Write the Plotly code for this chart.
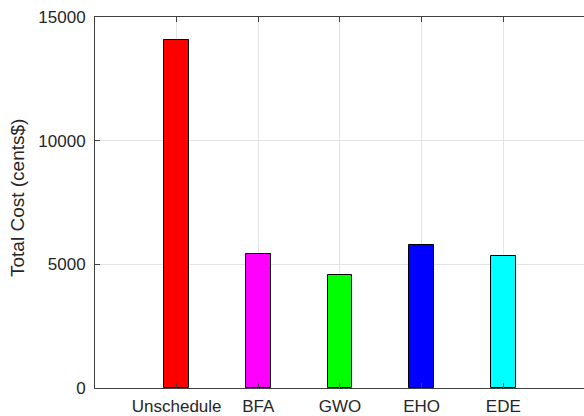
import plotly.graph_objects as go

categories = ["Unschedule", "BFA", "GWO", "EHO", "EDE"]
positions = [1, 2, 3, 4, 5]
total_cost = [14070, 5400, 4555, 5780, 5335]
bar_colors = ["#ff0000", "#ff00ff", "#00ff00", "#0000ff", "#00ffff"]
y_ticks = [0, 5000, 10000, 15000]
y_tick_labels = ["0", "5000", "10000", "15000"]

fig = go.Figure()
fig.add_trace(go.Bar(
    x=positions, y=total_cost, width=0.3,
    marker=dict(color=bar_colors, line=dict(color="#000000", width=1)),
    showlegend=False, hoverinfo="skip",
))

axis_font = dict(family="Liberation Sans, Arial, sans-serif", size=17, color="#262626")

fig.update_layout(
    width=584, height=416,
    margin=dict(l=95, r=0, t=17, b=28, autoexpand=False),
    paper_bgcolor="white", plot_bgcolor="white",
    bargap=0,
    xaxis=dict(
        range=[0, 5.988], tickvals=positions, ticktext=categories,
        showgrid=True, gridcolor="#e3e3e3", gridwidth=1,
        showline=True, linecolor="#404040", linewidth=1, mirror="ticks",
        ticks="inside", ticklen=5, tickcolor="#404040",
        tickfont=axis_font, zeroline=False, automargin=False,
        ticklabelstandoff=3,
    ),
    yaxis=dict(
        range=[0, 15000], tickvals=y_ticks, ticktext=y_tick_labels,
        showgrid=True, gridcolor="#e3e3e3", gridwidth=1,
        showline=True, linecolor="#404040", linewidth=1,
        ticks="inside", ticklen=5, tickcolor="#404040",
        tickfont=axis_font, zeroline=False, automargin=False,
        ticklabelstandoff=5,
    ),
    yaxis2=dict(
        overlaying="y", side="right", matches="y", range=[0, 15000],
        tickvals=y_ticks, showticklabels=False, showgrid=False,
        showline=False, zeroline=False, ticks="inside", ticklen=3,
        tickcolor="#404040", automargin=False,
    ),
    annotations=[dict(
        text="Total Cost (cents$)", textangle=-90,
        xref="paper", yref="paper", x=(18 - 95) / 489, y=(388 - 198) / 371,
        xanchor="center", yanchor="middle", showarrow=False,
        font=dict(family="Liberation Sans, Arial, sans-serif", size=19, color="#262626"),
    )],
)

fig.write_html(
    "out.html",
    config={"displayModeBar": False},
    post_script="document.body.style.margin='0px';document.body.style.overflow='hidden';",
)
